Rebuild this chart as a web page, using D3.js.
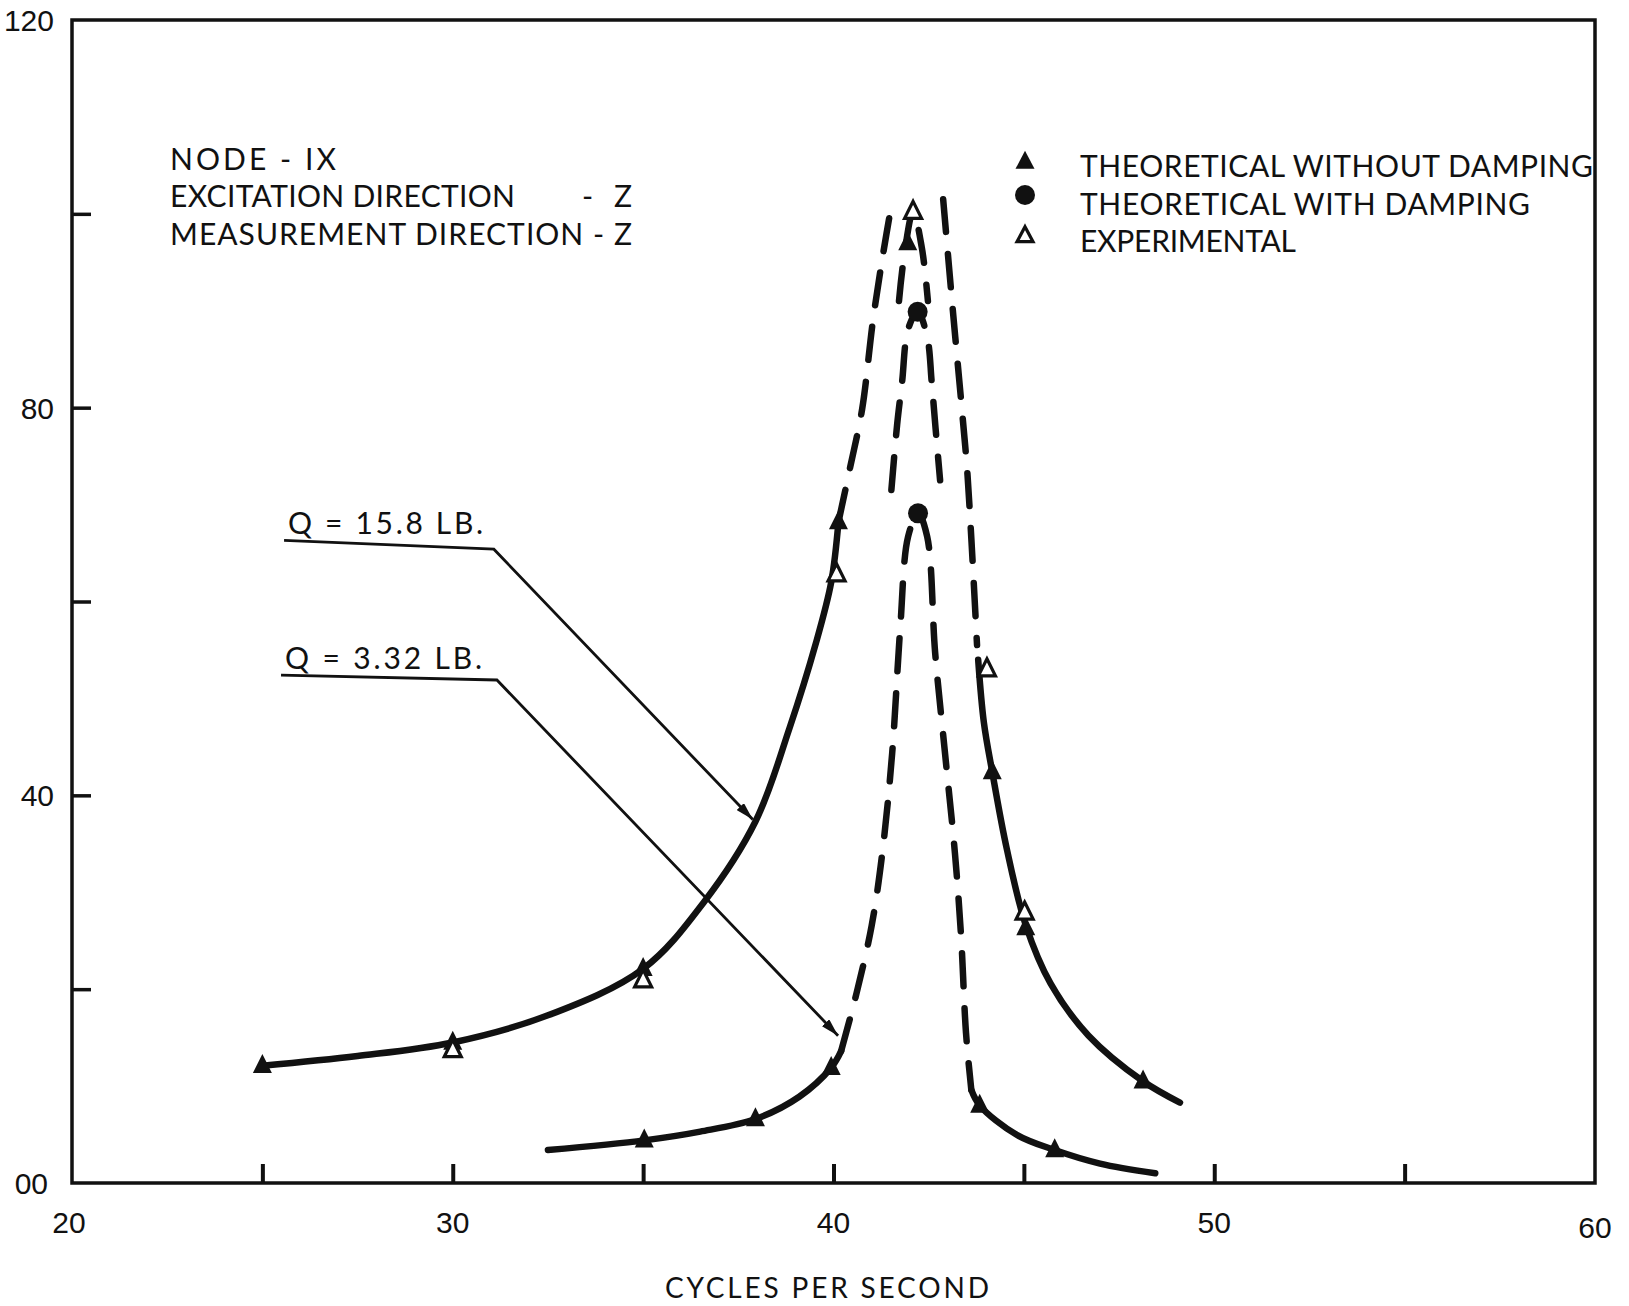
<!DOCTYPE html>
<html>
<head>
<meta charset="utf-8">
<script src="https://cdn.jsdelivr.net/npm/d3@7/dist/d3.min.js"></script>
<style>
  html, body { margin: 0; padding: 0; background: #fff; }
  svg { display: block; }
  text { fill: #111; }
</style>
</head>
<body>
<svg id="chart" width="1629" height="1306"></svg>
<script>
// Frequency response at node IX, Z excitation / Z measurement.
// Values: [cycles per second, response]

// Q = 15.8 LB. curve
const q158SolidLeft  = [[25,12.1],[27.5,13.1],[30,14.5],[32.5,17.3],[35,22.1],[36.6,29.0],[37.95,37.3],[38.85,47.0],[39.53,55.6],[39.94,62.0],[40.13,68.2]];
const q158DashLeft   = [[40.13,68.2],[40.44,73.9],[40.75,79.8],[41.04,89.1],[41.3,95.8],[41.54,101.3]];
const q158DashRight  = [[42.88,101.5],[43.14,89.8],[43.38,79.5],[43.51,73.6],[43.62,66.5],[43.77,55.5]];
const q158SolidRight = [[43.8,54.0],[43.95,47.5],[44.17,42.4],[44.55,34.5],[45.05,26.6],[45.7,20.6],[46.7,15.2],[48.13,10.5],[49.1,8.3]];

// Resonance peaks near 42 cps
const expPeak  = [[41.72,91.0],[41.85,95.5],[42.09,100.2],[42.32,96.5],[42.48,91.0]];
const dampPeak = [[41.52,71.5],[41.67,78.2],[41.80,82.6],[41.96,88.1],[42.21,89.9],[42.46,87.3],[42.58,82.6],[42.68,77.9],[42.80,72.5]];

// Q = 3.32 LB. curve
const q332SolidLeft  = [[32.5,3.4],[35.03,4.4],[36.5,5.3],[37.95,6.6],[39.1,8.9],[39.94,11.9],[40.2,13.6]];
const q332Dash       = [[40.2,13.6],[40.6,19.5],[41.0,26.5],[41.28,34.0],[41.54,44.3],[41.75,57.1],[41.96,66.7],[42.22,69.1],[42.46,66.7],[42.67,54.7],[42.93,44.3],[43.19,34.0],[43.35,25.5],[43.48,15.5],[43.62,9.6]];
const q332SolidRight = [[43.62,9.6],[43.84,8.0],[44.8,5.0],[45.81,3.4],[47.0,2.0],[48.45,1.0]];

// Plotted points
const theoNoDamping = [[25,12.1],[30,14.5],[35,22.1],[40.13,68.2],[41.95,97.0],[44.17,42.4],[45.05,26.3],[48.13,10.5],
                       [35.03,4.4],[37.95,6.6],[39.94,11.9],[43.84,8.0],[45.81,3.4]];
const theoDamping   = [[42.21,89.9],[42.22,69.1]];
const experimental  = [[30,13.7],[35,20.9],[40.08,62.8],[42.09,100.2],[44.03,53.0],[45.02,27.9]];

// Load call-outs: label, leader path
const loadLabels  = ["Q = 15.8  LB.", "Q = 3.32  LB."];
const leader158   = [[25.57,66.3],[31.08,65.4],[37.88,37.5]];
const leader332   = [[25.49,52.4],[31.16,51.9],[40.12,15.2]];

// Axes
const xTicks      = [25,30,35,40,45,50,55];
const xLabels     = [20,30,40,50,60];
const yTicks      = [20,40,60,80,100];
const yLabels     = [["120",120],["80",80],["40",40],["00",0]];

const infoLines   = ["NODE - IX", "EXCITATION DIRECTION", "- Z", "MEASUREMENT DIRECTION - Z"];
const legendItems = ["THEORETICAL WITHOUT DAMPING", "THEORETICAL WITH DAMPING", "EXPERIMENTAL"];
const xTitle      = "CYCLES PER SECOND";

const svg = d3.select("#chart");
const x = d3.scaleLinear().domain([20, 60]).range([72, 1595]);
const y = d3.scaleLinear().domain([0, 120]).range([1183, 20]);

const numFont  = "'Liberation Sans', Arial, sans-serif";
const textFont = "Lato, 'Open Sans', sans-serif";

// frame
svg.append("path")
  .attr("d", `M${x(20)},${y(0)} L${x(20)},${y(120)} L${x(60)},${y(120)} L${x(60)},${y(0)} Z`)
  .attr("fill", "none").attr("stroke", "#111").attr("stroke-width", 3.5);

// ticks via d3 axes (inward)
const xAxis = d3.axisBottom(x).tickValues(xTicks).tickSizeInner(-19).tickSizeOuter(0).tickFormat("");
const gx = svg.append("g").attr("transform", `translate(0,${y(0)})`).call(xAxis);
gx.select(".domain").remove();
gx.selectAll(".tick line").attr("stroke", "#111").attr("stroke-width", 4);

const yAxis = d3.axisLeft(y).tickValues(yTicks).tickSizeInner(-19).tickSizeOuter(0).tickFormat("");
const gy = svg.append("g").attr("transform", `translate(${x(20)},0)`).call(yAxis);
gy.select(".domain").remove();
gy.selectAll(".tick line").attr("stroke", "#111").attr("stroke-width", 3.5);

// tick labels
svg.selectAll("text.xl").data(xLabels).enter().append("text")
  .attr("class", "xl")
  .attr("x", d => x(d) - (d === 20 ? 3 : 0))
  .attr("y", d => d === 60 ? 1238 : 1233)
  .attr("text-anchor", "middle")
  .attr("font-family", numFont).attr("font-size", 30)
  .text(d => d);

svg.selectAll("text.yl").data(yLabels).enter().append("text")
  .attr("class", "yl")
  .attr("x", d => d[1] === 0 ? 48 : 54)
  .attr("y", d => y(d[1]) + 11)
  .attr("text-anchor", "end")
  .attr("font-family", numFont).attr("font-size", 30)
  .text(d => d[0]);

svg.append("text")
  .attr("x", 665).attr("y", 1298)
  .attr("font-family", textFont).attr("font-size", 28)
  .attr("textLength", 324).attr("lengthAdjust", "spacing")
  .text(xTitle);

// curves
const line = d3.line().x(d => x(d[0])).y(d => y(d[1])).curve(d3.curveCatmullRom.alpha(0.5));
const solidSets = [q158SolidLeft, q158SolidRight, q332SolidLeft, q332SolidRight];
const dashSets  = [q158DashLeft, q158DashRight, expPeak, dampPeak, q332Dash];

svg.selectAll("path.solid").data(solidSets).enter().append("path")
  .attr("class", "solid").attr("d", line)
  .attr("fill", "none").attr("stroke", "#111").attr("stroke-width", 6.5)
  .attr("stroke-linecap", "round").attr("stroke-linejoin", "round");

svg.selectAll("path.dash").data(dashSets).enter().append("path")
  .attr("class", "dash").attr("d", line)
  .attr("fill", "none").attr("stroke", "#111").attr("stroke-width", 6.5)
  .attr("stroke-dasharray", "33 22")
  .attr("stroke-linecap", "round");

// leader arrows
const defs = svg.append("defs");
defs.append("marker").attr("id", "arrowHead")
  .attr("viewBox", "0 0 18 10").attr("refX", 18).attr("refY", 5)
  .attr("markerWidth", 18).attr("markerHeight", 10)
  .attr("markerUnits", "userSpaceOnUse").attr("orient", "auto")
  .append("path").attr("d", "M0,0 L18,5 L0,10 Z").attr("fill", "#111");

const straight = d3.line().x(d => x(d[0])).y(d => y(d[1]));
[leader158, leader332].forEach((pts, i) => {
  svg.append("path").attr("d", straight(pts))
    .attr("fill", "none").attr("stroke", "#111").attr("stroke-width", 2.8)
    .attr("marker-end", "url(#arrowHead)");
  svg.append("text")
    .attr("x", x(pts[0][0]) + 4).attr("y", y(pts[0][1]) - 6)
    .attr("font-family", textFont).attr("font-size", 30)
    .attr("textLength", i === 0 ? 195 : 197).attr("lengthAdjust", "spacing")
    .text(loadLabels[i]);
});

// point symbols
function tri(w, h) {
  return `M0,${-h * 0.62} L${w / 2},${h * 0.38} L${-w / 2},${h * 0.38} Z`;
}
svg.selectAll("path.tf").data(theoNoDamping).enter().append("path")
  .attr("class", "tf").attr("d", tri(19, 19))
  .attr("transform", d => `translate(${x(d[0])},${y(d[1])})`)
  .attr("fill", "#111");

svg.selectAll("circle.cd").data(theoDamping).enter().append("circle")
  .attr("class", "cd").attr("cx", d => x(d[0])).attr("cy", d => y(d[1])).attr("r", 10)
  .attr("fill", "#111");

svg.selectAll("path.to").data(experimental).enter().append("path")
  .attr("class", "to").attr("d", tri(17, 17))
  .attr("transform", d => `translate(${x(d[0])},${y(d[1])})`)
  .attr("fill", "#fff").attr("stroke", "#111").attr("stroke-width", 3.2).attr("stroke-linejoin", "miter");

// info block
const info = svg.append("g").attr("font-family", textFont).attr("font-size", 30);
info.append("text").attr("x", 170).attr("y", 170).attr("textLength", 166).attr("lengthAdjust", "spacing").text(infoLines[0]);
info.append("text").attr("x", 170).attr("y", 207).attr("textLength", 345).attr("lengthAdjust", "spacing").text(infoLines[1]);
info.append("text").attr("x", 582).attr("y", 207).attr("textLength", 50).attr("lengthAdjust", "spacing").text(infoLines[2]);
info.append("text").attr("x", 170).attr("y", 245).attr("textLength", 462).attr("lengthAdjust", "spacing").text(infoLines[3]);

// legend
const legY = [177, 215, 252];
const legLen = [513, 450, 216];
const leg = svg.append("g");
legendItems.forEach((t, i) => {
  leg.append("text").attr("x", 1080).attr("y", legY[i])
    .attr("font-family", textFont).attr("font-size", 30)
    .attr("textLength", legLen[i]).attr("lengthAdjust", "spacing")
    .text(t);
});
leg.append("path").attr("d", tri(19, 18)).attr("transform", "translate(1025,162)").attr("fill", "#111");
leg.append("circle").attr("cx", 1025).attr("cy", 195).attr("r", 10).attr("fill", "#111");
leg.append("path").attr("d", tri(16, 15)).attr("transform", "translate(1025,236)")
  .attr("fill", "#fff").attr("stroke", "#111").attr("stroke-width", 3.2);
</script>
</body>
</html>
